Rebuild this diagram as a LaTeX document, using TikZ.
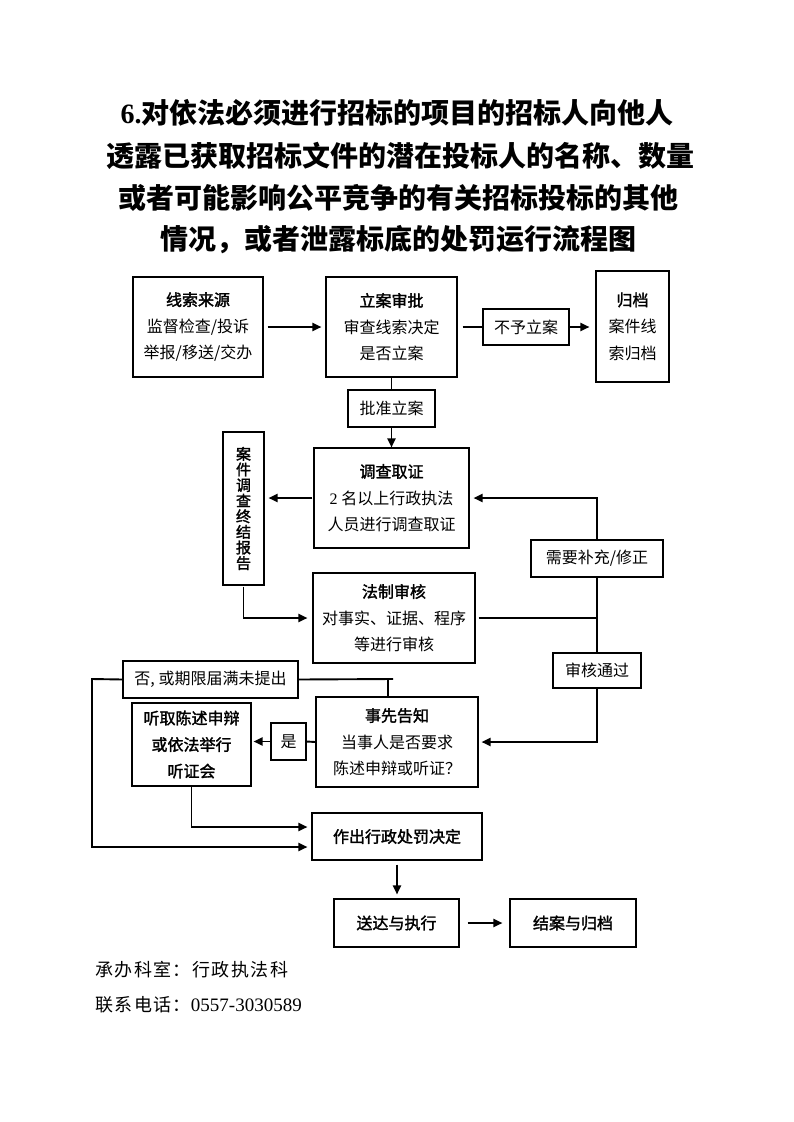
\documentclass[tikz,border=0pt]{standalone}
\usepackage{fontspec}
\setmainfont{Liberation Serif}
\newfontfamily\cjk{Noto Sans CJK SC}
\newfontfamily\cjkh{Noto Sans CJK SC}[FakeBold=1.8]
\usetikzlibrary{arrows.meta,calc}
\newcommand\tightlines{\lineskiplimit=-10pt\relax}
\newcommand\hd[1]{{\cjkh #1}}
\begin{document}
\begin{tikzpicture}[x=1pt,y=-1pt,
  box/.style={draw,line width=1.1pt,inner sep=0pt,align=center,font=\cjk\fontsize{16}{26.5}\selectfont},
  titlefont/.style={font=\cjk\bfseries\fontsize{28}{28}\selectfont},
  conn/.style={line width=1.9pt},
  arr/.style={conn,-{Triangle[length=9pt,width=8pt]}},
  foot/.style={anchor=west,inner sep=0pt,font=\cjk\fontsize{18}{18}\selectfont\addfontfeature{LetterSpace=8}}
]
\useasboundingbox (0,0) rectangle (793,1122);
\fill[white] (0,0) rectangle (793,1122);

% title
\node[titlefont] (t1) at (397,113) {{\rmfamily\bfseries 6.}对依法必须进行招标的项目的招标人向他人};
\node[titlefont] (t2) at (400,156) {透露已获取招标文件的潜在投标人的名称、数量};
\node[titlefont] (t3) at (398,198) {或者可能影响公平竞争的有关招标投标的其他};
\node[titlefont] (t4) at (398,240) {情况，或者泄露标底的处罚运行流程图};

% boxes
\node[box,minimum width=130pt,minimum height=100pt] (src) at (198,327) {\hd{线索来源}\\监督检查/投诉\\举报/移送/交办};
\node[box,minimum width=131pt,minimum height=100pt] (approve) at (391.5,327) {\hd{立案审批}\\审查线索决定\\是否立案};
\node[box,minimum width=86pt,minimum height=36pt] (notfile) at (526,327) {不予立案};
\node[box,minimum width=73pt,minimum height=111pt] (archive) at (632.5,326.5) {\hd{归档}\\案件线\\索归档};
\node[box,minimum width=87pt,minimum height=37pt] (grant) at (391.5,408.5) {批准立案};
\node[box,minimum width=155pt,minimum height=100pt] (invest) at (391.5,498) {\hd{调查取证}\\{\rmfamily 2} 名以上行政执法\\人员进行调查取证};
\node[box,minimum width=41pt,minimum height=153pt,font=\cjkh\fontsize{15}{15.6}\selectfont\tightlines] (report) at (243.5,508.5) {案\\件\\调\\查\\终\\结\\报\\告};
\node[box,minimum width=132pt,minimum height=37pt] (need) at (597,558.5) {需要补充/修正};
\node[box,minimum width=162pt,minimum height=90pt] (legal) at (394,618) {\hd{法制审核}\\对事实、证据、程序\\等进行审核};
\node[box,minimum width=88pt,minimum height=35pt] (pass) at (597,670.5) {审核通过};
\node[box,minimum width=175pt,minimum height=37pt] (no) at (210.5,679.5) {否, 或期限届满未提出};
\node[box,minimum width=162pt,minimum height=90pt] (notify) at (397,742) {\hd{事先告知}\\当事人是否要求\\陈述申辩或听证？};
\node[box,minimum width=119pt,minimum height=83pt] (hear) at (191.5,744.5) {\hd{听取陈述申辩}\\\hd{或依法举行}\\\hd{听证会}};
\node[box,minimum width=35pt,minimum height=37pt] (yes) at (288.5,741.5) {是};
\node[box,minimum width=170pt,minimum height=47pt] (decide) at (397,836.5) {\hd{作出行政处罚决定}};
\node[box,minimum width=125pt,minimum height=48pt] (deliver) at (396.5,923) {\hd{送达与执行}};
\node[box,minimum width=126pt,minimum height=48pt] (close) at (573,923) {\hd{结案与归档}};

% connectors
\draw[arr,shorten <=4pt,shorten >=4pt] (src.east) -- (approve.west);
\draw[conn,shorten <=5pt] (approve.east) -- (notfile.west);
\draw[arr,shorten >=6pt] (notfile.east) -- (notfile.east -| archive.west);
\draw[conn] (approve.south) -- (grant.north);
\draw[arr] (grant.south) -- (invest.north);
\draw[arr,shorten <=1pt,shorten >=4pt] (invest.west) -- (invest.west -| report.east);
\draw[arr,shorten >=4pt] (need.north) |- (invest.east);
\draw[arr,shorten <=1pt,shorten >=5pt] (report.south) |- (legal.west);
\coordinate (j1) at (need.south |- legal.east);
\draw[conn,shorten <=3pt] (legal.east) -- (j1);
\draw[conn] (need.south) -- (pass.north);
\draw[arr,shorten >=3pt] (pass.south) |- (notify.east);
\coordinate (j2) at (388,679);
\draw[conn] (no.east) -- ($(j2)+(5,0)$);
\draw[conn] (j2) -- (j2 |- notify.north);
\coordinate (j3) at (92,679);
\draw[arr,shorten >=4pt] (no.west) -- (j3) |- ($(decide.west)+(0,10.5)$);
\draw[conn] (notify.west) -- (yes.east);
\draw[arr,shorten >=2pt] (yes.west) -- (yes.west -| hear.east);
\draw[arr,shorten >=4pt] (hear.south) |- ($(decide.west)+(0,-9.5)$);
\draw[arr,shorten <=4pt,shorten >=4pt] (decide.south) -- (decide.south |- deliver.north);
\draw[arr,shorten <=8pt,shorten >=7pt] (deliver.east) -- (close.west);

% footer
\node[foot] (f1) at (95,970) {承办科室：行政执法科};
\node[foot] (f2) at (95,1005) {联系电话：{\rmfamily\fontsize{19}{19}\selectfont 0557-3030589}};
\end{tikzpicture}
\end{document}
